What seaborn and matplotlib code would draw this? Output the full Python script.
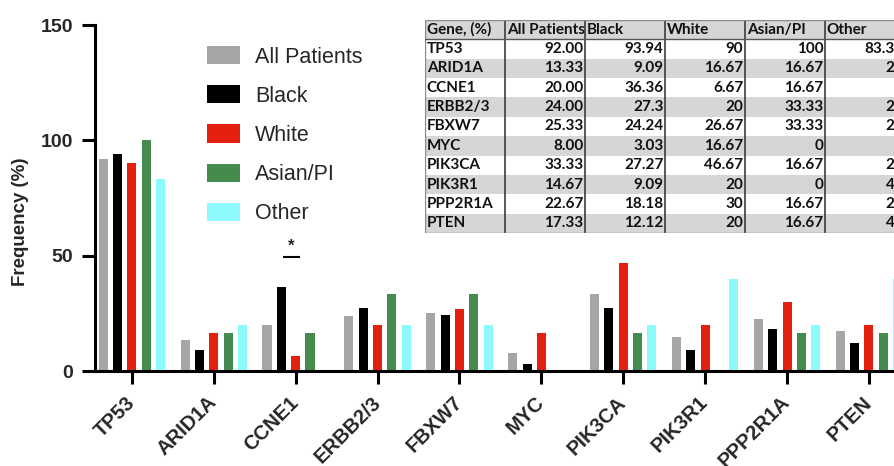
import numpy as np
import pandas as pd
import matplotlib
matplotlib.use('Agg')
import matplotlib.pyplot as plt
import seaborn as sns

# =============================================================================
# DATA
# =============================================================================

GENES = ['TP53', 'ARID1A', 'CCNE1', 'ERBB2/3', 'FBXW7',
         'MYC', 'PIK3CA', 'PIK3R1', 'PPP2R1A', 'PTEN']
GROUPS = ['All Patients', 'Black', 'White', 'Asian/PI', 'Other']

ALL_PATIENTS = [92.00, 13.33, 20.00, 24.00, 25.33, 8.00, 33.33, 14.67, 22.67, 17.33]
BLACK = [93.94, 9.09, 36.36, 27.3, 24.24, 3.03, 27.27, 9.09, 18.18, 12.12]
WHITE = [90, 16.67, 6.67, 20, 26.67, 16.67, 46.67, 20, 30, 20]
ASIAN_PI = [100, 16.67, 16.67, 33.33, 33.33, 0, 16.67, 0, 16.67, 16.67]
OTHER = [83.33, 20, 0, 20, 20, 0, 20, 40, 20, 40]

SERIES = [ALL_PATIENTS, BLACK, WHITE, ASIAN_PI, OTHER]

COLORS = {
    'All Patients': '#a6a6a6',
    'Black': '#000000',
    'White': '#e4200e',
    'Asian/PI': '#468b4e',
    'Other': '#8cfbfb',
}

TABLE_HEADER = ['Gene, (%)'] + GROUPS

# =============================================================================
# FIGURE
# =============================================================================

sns.set_style('ticks')
plt.rcParams['font.family'] = ['Liberation Sans', 'DejaVu Sans']

W, H = 895, 466
fig = plt.figure(figsize=(W / 100, H / 100), dpi=100)

# main axes in pixel terms (y axis at x=95, zero line at y=371, 150 at y=25)
ax = fig.add_axes([95 / W, 95 / H, 819 / W, 346 / H])

rows = []
for group, vals in zip(GROUPS, SERIES):
    for gene, v in zip(GENES, vals):
        rows.append({'gene': gene, 'group': group, 'freq': v})
df = pd.DataFrame(rows)

sns.barplot(data=df, x='gene', y='freq', hue='group', order=GENES,
            hue_order=GROUPS, palette=COLORS, saturation=1,
            width=0.875, gap=0.37, linewidth=0, ax=ax)

ax.set_xlim(-0.45, len(GENES) - 0.45)
ax.set_ylim(0, 150)
ax.set_yticks([0, 50, 100, 150])

for side in ['top', 'right']:
    ax.spines[side].set_visible(False)
for side in ['left', 'bottom']:
    ax.spines[side].set_linewidth(2.2)
    ax.spines[side].set_color('black')

ax.tick_params(axis='both', length=9.5, width=2.2, color='black',
               labelsize=14)
ax.tick_params(axis='y', pad=6)
for lab in ax.get_yticklabels():
    lab.set_fontweight('bold')
ax.set_xticks(range(len(GENES)))
ax.set_xticklabels(GENES, rotation=45, ha='right', va='center',
                   rotation_mode='anchor', fontweight='bold', fontsize=14.5)
ax.tick_params(axis='x', pad=11)

ax.set_xlabel('')
ax.set_ylabel('Frequency (%)', fontsize=13.5, fontweight='bold')
ax.yaxis.set_label_coords(-0.080, 0.43)

# significance mark over CCNE1 (Black vs White)
ci = GENES.index('CCNE1')
ax.plot([ci - 0.155, ci + 0.05], [49.5, 49.5], color='black', lw=1.5,
        solid_capstyle='butt')
ax.text(ci - 0.052, 51, '*', ha='center', va='bottom', fontsize=12,
        fontweight='bold')

# legend
handles, labels = ax.get_legend_handles_labels()
ax.legend(handles, labels, loc='upper left',
          bbox_to_anchor=(207 / W, 1 - 46 / H), bbox_transform=fig.transFigure,
          frameon=False, fontsize=15.5, handlelength=1.53, handleheight=0.93,
          handletextpad=0.7, labelspacing=0.82, borderpad=0, borderaxespad=0)

# =============================================================================
# INSET TABLE
# =============================================================================

cell_text = []
for i, gene in enumerate(GENES):
    row = [gene, f'{ALL_PATIENTS[i]:.2f}']
    row += [f'{s[i]:g}' for s in SERIES[1:]]
    cell_text.append(row)

n_cols = len(TABLE_HEADER)
n_rows = len(GENES) + 1
tab_ax = fig.add_axes([425 / W, 1 - 233 / H, 80 * n_cols / W, 213 / H])
tab_ax.set_zorder(5)
tab_ax.axis('off')

tbl = tab_ax.table(cellText=cell_text, colLabels=TABLE_HEADER,
                   cellLoc='right', bbox=[0, 0, 1, 1])
tbl.auto_set_font_size(False)
tbl.set_fontsize(11)

for (r, c), cell in tbl.get_celld().items():
    shaded = (r == 0) or (r % 2 == 0)
    fc = '#d6d6d6' if shaded else 'white'
    cell.set_facecolor(fc)
    cell.set_edgecolor(fc)
    cell.set_linewidth(0)
    cell.PAD = 0.02
    txt = cell.get_text()
    if r == 0 or c == 0:
        txt.set_horizontalalignment('left')
    txt.set_fontweight('bold')
    txt.set_family(['Lato', 'Liberation Sans'])
    txt.set_color('#111111')

for k in range(1, n_cols):
    tab_ax.axvline(k / n_cols, color='#2e2e2e', lw=1.1, zorder=10)
tab_ax.axvline(0, color='#8a8a8a', lw=1.0, zorder=10)
for yy, col in [(1, '#8a8a8a'), (1 - 1 / n_rows, '#555555'), (0, '#8a8a8a')]:
    tab_ax.axhline(yy, color=col, lw=1.0, zorder=10)

fig.savefig('out.png', dpi=100)
